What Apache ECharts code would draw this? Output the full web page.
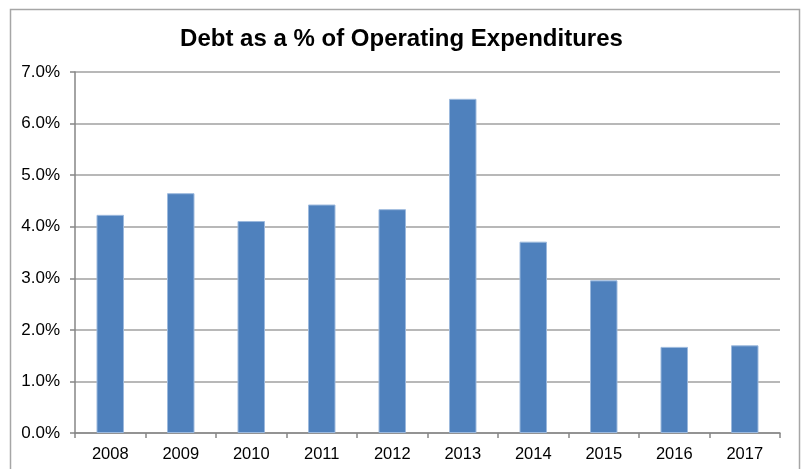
<!DOCTYPE html>
<html>
<head>
<meta charset="utf-8">
<script src="https://cdn.jsdelivr.net/npm/echarts@6/dist/echarts.min.js"></script>
<style>
html,body{margin:0;padding:0;background:#fff;}
#chart{width:803px;height:469px;}
</style>
</head>
<body>
<div id="chart"></div>
<script>
var titleText = "Debt as a % of Operating Expenditures";
var years = ["2008","2009","2010","2011","2012","2013","2014","2015","2016","2017"];
var debtPct = [4.23, 4.65, 4.11, 4.43, 4.34, 6.48, 3.71, 2.96, 1.67, 1.70];
var yTicks = [0, 1, 2, 3, 4, 5, 6, 7];

var chart = echarts.init(document.getElementById('chart'), null, {renderer: 'canvas'});
var font = "'Liberation Sans', Arial, sans-serif";
chart.setOption({
  animation: false,
  backgroundColor: '#ffffff',
  title: {
    text: titleText,
    left: 'center',
    top: 22,
    textStyle: {fontFamily: font, fontWeight: 'bold', fontSize: 24, color: '#000'}
  },
  graphic: [{
    type: 'rect',
    shape: {x: 10.5, y: 9.5, width: 789, height: 480},
    style: {fill: 'none', stroke: '#a6a6a6', lineWidth: 1.5},
    silent: true
  }],
  grid: {left: 75, right: 23, top: 72, bottom: 36, containLabel: false},
  xAxis: {
    type: 'category',
    data: years,
    boundaryGap: true,
    axisLine: {lineStyle: {color: '#868686', width: 1.5}},
    axisTick: {show: true, length: 5, alignWithLabel: false, lineStyle: {color: '#868686', width: 1.5}},
    axisLabel: {fontFamily: font, fontSize: 16.5, color: '#000', margin: 13}
  },
  yAxis: {
    type: 'value',
    min: yTicks[0],
    max: yTicks[yTicks.length - 1],
    interval: 1,
    axisLine: {show: true, lineStyle: {color: '#868686', width: 1.5}},
    axisTick: {show: true, length: 5, lineStyle: {color: '#868686', width: 1.5}},
    splitLine: {show: true, lineStyle: {color: '#a0a0a0', width: 1.5}},
    axisLabel: {
      fontFamily: font, fontSize: 17, color: '#000', margin: 15,
      formatter: function (v) { return v.toFixed(1) + '%'; }
    }
  },
  series: [{
    type: 'bar',
    data: debtPct,
    barWidth: '39%',
    itemStyle: {color: '#4F81BD', borderColor: '#9cb9dd', borderWidth: 1}
  }]
});
</script>
</body>
</html>
